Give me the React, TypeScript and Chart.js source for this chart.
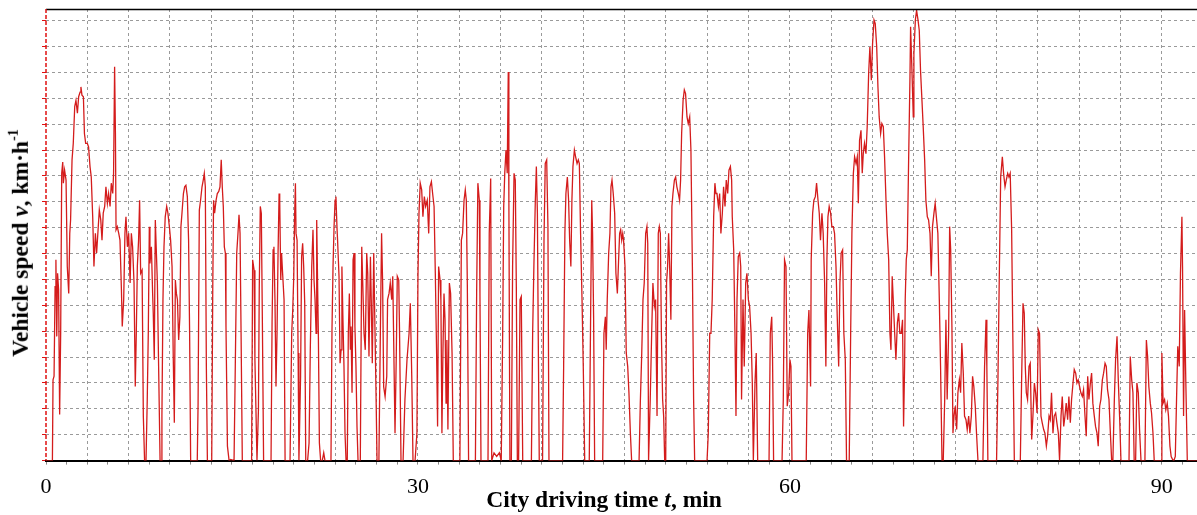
import React, { useEffect, useRef } from "react";
import { Chart, registerables } from "chart.js";

Chart.register(...registerables);

// Vehicle speed trace: [time in s, speed in km/h]
const speedSeg1: [number, number][] = [
  [0,0],[31,0],[34,15.6],[39,16.3],[44,33.6],[48,38.8],[52,24.0],[56,36.2],[61,33.0],[66,8.9],[71,24.6],[76,55.5],[81,57.7],[84,53.6],[90,56.1],[97,54.2],[103,37.5],[110,32.3],[115,43.9],[119,46.5],[126,58.1],[132,61.3],[139,68.4],[145,69.6],[152,67.1],[158,70.3],[165,71.2],[169,72.2],[174,70.6],[181,70.3],[186,63.2],[192,61.3],[200,61.3],[206,60.6],[213,56.8],[219,54.8],[226,47.1],[232,37.5],[239,43.9],[245,40.1],[252,44.6],[258,48.4],[265,46.5],[271,42.6],[277,47.8],[284,49.1],[290,52.9],[297,49.7],[303,51.6],[310,49.1],[316,53.6],[323,51.6],[327,55.5],[332,76.1],[336,63.2],[339,44.6],[345,45.2],[352,43.9],[358,42.6],[365,33.0],[369,25.9],[376,31.1],[382,43.9],[387,47.1],[394,41.3],[400,43.9],[407,34.3],[413,43.9],[419,41.3],[426,34.3],[432,14.3],[437,24.6],[442,37.5],[448,42.6],[453,50.3],[458,36.2],[465,36.8],[471,8.6],[477,0],[484,0],[490,11.8],[495,24.6],[500,45.2],[503,38.1],[510,41.3],[516,32.3],[519,28.5],[524,19.5],[529,46.5],[539,34.3],[545,18.2],[552,0],[558,0],[561,8.6],[566,31.1],[571,41.3],[577,47.1],[584,49.1],[590,47.8],[597,45.2],[603,42.6],[610,37.5],[616,19.5],[621,7.3],[626,34.9],[631,32.3],[636,31.1],[642,23.3],[648,27.8],[653,45.2],[658,47.8],[665,51.6],[671,52.9],[677,53.2],[684,51.0],[690,42.6],[695,24.6],[700,0],[732,0],[736,11.1],[742,48.4],[748,50.3],[755,52.9],[761,54.2],[766,55.5],[771,52.9],[776,18.2],[781,0],[802,0],[807,33.6],[811,50.3],[816,47.8],[823,50.3],[829,51.6],[836,52.0],[842,52.9],[848,58.1],[853,52.9],[858,49.1],[863,41.3],[868,40.1],[871,25.9],[878,2.8],[886,0],[894,0.2],[910,0],[916,18.2],[923,40.1],[929,43.9]
];

const speedSeg2: [number, number][] = [
  [934,47.5],[939,43.9],[944,24.6],[950,0],[995,0],[1000,38.8],[1007,36.8],[1011,19.5],[1016,9.8],[1021,0],[1028,9.8],[1032,33.0],[1037,49.1],[1042,47.8],[1047,27.2],[1053,0],[1089,0],[1094,26.6],[1099,40.7],[1103,41.3],[1108,31.1],[1113,14.3],[1118,24.6],[1123,40.1],[1128,51.6],[1131,50.3],[1136,34.9],[1140,40.1],[1145,36.2],[1152,31.1],[1157,0],[1181,0],[1189,24.6],[1194,29.1],[1199,35.6],[1203,47.1],[1207,53.6],[1210,43.9],[1215,42.6],[1220,20.8],[1224,0],[1232,16.3],[1237,39.4],[1242,42.0],[1247,37.5],[1252,30.4],[1257,0],[1266,0],[1273,3.4],[1279,21.4],[1286,37.5],[1292,44.6],[1297,34.9],[1302,31.1],[1307,24.6],[1310,46.5],[1315,32.3],[1318,24.6],[1323,3.4],[1329,0],[1337,0],[1344,1.5],[1350,0],[1379,0],[1384,25.3],[1389,37.5],[1394,45.2],[1399,50.3],[1403,51.0],[1408,45.2],[1411,42.6],[1418,35.6],[1423,18.8],[1428,21.4],[1432,37.5],[1437,27.2],[1442,18.2],[1447,5.3],[1452,0],[1458,0],[1463,24.6],[1468,32.3],[1473,21.4],[1476,25.9],[1481,13.1],[1486,38.8],[1491,40.1],[1495,25.9],[1500,18.2],[1505,6.6],[1510,0],[1521,0],[1528,41.3],[1532,35.6],[1539,24.6],[1545,21.4],[1552,40.1],[1557,36.2],[1563,20.1],[1570,39.4],[1574,31.1],[1579,18.8],[1586,40.1],[1592,25.3],[1597,13.1],[1602,0],[1611,0],[1618,24.6],[1624,43.9],[1629,34.3],[1634,14.3],[1641,12.4],[1649,16.3],[1653,31.1],[1660,32.3],[1666,34.3],[1673,31.1],[1678,35.6],[1682,24.6],[1689,5.3],[1695,20.1],[1700,35.6],[1707,34.9],[1711,24.6],[1718,0],[1728,0],[1737,11.8],[1747,19.5],[1757,24.6],[1763,30.4],[1770,16.3],[1776,0],[1786,0],[1795,5.3],[1800,35.6],[1805,47.8],[1811,53.6],[1818,52.3],[1824,47.1],[1831,51.0],[1837,49.1]
];

const speedSeg3: [number, number][] = [
  [1845,50.3],[1852,43.9],[1858,52.9],[1865,53.9],[1871,51.6],[1878,49.1],[1884,36.2],[1890,21.4],[1895,6.6],[1900,37.5],[1907,34.9],[1911,31.1],[1916,5.3],[1921,21.4],[1926,32.3],[1931,27.2],[1936,11.1],[1940,23.3],[1945,6.0],[1952,34.3],[1958,32.3],[1965,20.8],[1971,0],[2003,0],[2010,42.6],[2016,43.9],[2023,50.3],[2029,52.3],[2034,50.3],[2039,33.6],[2045,0],[2078,0],[2084,32.3],[2090,53.6],[2097,50.3],[2100,32.3],[2105,0],[2139,0],[2145,43.9],[2152,54.5],[2157,0],[2168,1.5],[2181,0.8],[2194,1.5],[2203,0],[2210,24.6],[2215,49.1],[2220,55.5],[2226,60.0],[2232,55.5],[2237,75.1],[2240,50.3],[2245,0],[2252,0],[2258,37.5],[2265,55.5],[2271,54.2],[2276,33.6],[2281,0],[2287,0],[2294,31.1],[2300,31.7],[2307,0],[2349,0],[2355,24.6],[2361,37.5],[2368,50.3],[2373,56.8],[2378,47.8],[2382,24.6],[2387,0],[2403,0],[2410,42.6],[2416,57.4],[2423,58.1],[2429,45.2],[2434,0],[2500,0],[2505,18.2],[2511,43.9],[2516,51.6],[2523,54.8],[2529,50.3],[2534,42.6],[2540,37.5],[2545,50.3],[2550,56.8],[2557,60.0],[2563,58.7],[2570,57.4],[2576,58.1],[2581,57.4],[2587,43.9],[2594,31.1],[2600,18.2],[2607,0],[2629,0],[2636,29.8],[2641,50.3],[2645,43.9],[2650,27.8],[2655,0],[2694,0],[2700,24.6],[2707,27.8],[2711,21.4],[2716,31.1],[2723,40.1],[2729,43.9],[2734,52.9],[2739,54.2],[2745,51.6],[2752,47.8],[2758,36.2],[2765,32.3],[2771,38.8]
];

const speedSeg4: [number, number][] = [
  [2776,43.9],[2781,44.6],[2786,42.6],[2791,43.9],[2795,42.6],[2802,37.5],[2808,20.8],[2815,18.2],[2821,13.1],[2828,5.3],[2834,0],[2870,0],[2876,11.1],[2883,20.8],[2889,31.1],[2895,34.3],[2902,43.9],[2908,45.2],[2912,42.0],[2916,0],[2924,11.8],[2931,24.6],[2937,34.3],[2944,29.8],[2950,31.1],[2957,8.6],[2963,43.9],[2968,45.2],[2973,43.9],[2978,24.6],[2984,11.8],[2989,8.6],[2994,0],[2999,0],[3003,34.3],[3008,37.5],[3013,43.9],[3018,37.5],[3024,27.2],[3029,49.1],[3034,51.6],[3041,54.2],[3047,54.8],[3053,52.9],[3060,51.6],[3066,50.3],[3071,54.2],[3076,63.2],[3083,69.6],[3089,71.6],[3095,70.9],[3102,66.4],[3108,65.1],[3115,66.4],[3121,60.0],[3128,37.5],[3134,11.8],[3139,0],[3199,0],[3205,5.3],[3212,24.6],[3218,24.6],[3224,31.1],[3231,47.1],[3237,53.6],[3242,51.6],[3247,51.6],[3254,49.1],[3260,51.6],[3266,43.9],[3273,47.8],[3279,52.9],[3286,49.1],[3292,54.2],[3299,51.6],[3305,56.1],[3312,56.8],[3318,54.2],[3321,47.1],[3328,40.7],[3334,24.6],[3339,8.6],[3344,31.1],[3350,39.4],[3357,40.1],[3362,37.5],[3366,11.8],[3373,31.1],[3379,18.2],[3386,34.3],[3392,36.2],[3399,31.1],[3405,29.8],[3412,24.6],[3418,15.0],[3423,0],[3431,15.0],[3437,20.8],[3444,0],[3499,0],[3505,24.6],[3512,27.8],[3516,19.5],[3521,0],[3562,0],[3568,11.8],[3574,38.8],[3581,37.5],[3587,10.5],[3594,13.1],[3600,19.5],[3605,18.2],[3610,0],[3679,0],[3686,24.6],[3692,29.1]
];

const speedSeg5: [number, number][] = [
  [3700,14.3],[3703,38.8],[3710,47.8],[3716,50.3],[3723,51.0],[3729,53.6],[3736,50.3],[3742,47.8],[3748,42.6],[3755,47.8],[3761,43.9],[3768,34.3],[3774,18.2],[3779,38.8],[3784,47.1],[3790,49.1],[3797,47.8],[3803,45.2],[3810,45.2],[3816,43.9],[3823,37.5],[3829,27.8],[3836,18.2],[3842,34.3],[3848,40.1],[3855,40.7],[3861,24.6],[3868,19.5],[3874,0],[3887,0],[3894,24.6],[3900,43.9],[3907,55.5],[3913,58.7],[3920,57.4],[3926,58.7],[3931,49.7],[3937,61.9],[3944,63.8],[3950,55.5],[3955,59.3],[3961,61.3],[3968,59.3],[3974,64.5],[3981,74.8],[3987,79.9],[3994,73.5],[4000,80.6],[4007,85.1],[4013,84.4],[4020,79.9],[4026,72.2],[4032,66.4],[4039,63.2],[4045,65.1],[4052,64.5],[4058,58.7],[4065,50.3],[4071,43.9],[4078,38.8],[4084,24.6],[4089,21.4],[4095,35.6],[4100,31.1],[4107,24.6],[4113,19.5],[4120,26.6],[4126,28.5],[4132,24.6],[4139,24.6],[4145,27.2],[4150,6.6],[4155,18.2],[4158,31.1],[4163,38.8],[4168,40.7],[4174,56.8],[4181,74.1],[4184,83.8],[4190,76.1],[4197,66.4],[4200,78.6],[4207,85.1],[4213,87.0],[4220,85.1],[4226,83.1],[4232,75.4],[4239,69.6],[4245,64.5],[4252,58.1],[4258,50.3],[4265,47.1],[4271,46.5],[4278,43.9],[4284,35.6],[4290,45.2],[4297,47.8],[4303,49.7],[4310,46.5],[4316,43.9],[4323,31.1],[4329,18.2],[4336,0],[4342,0],[4349,11.8],[4355,27.2],[4361,11.8],[4368,24.6],[4373,45.2],[4378,40.7],[4384,25.9],[4389,5.3],[4394,8.6],[4400,10.5],[4407,6.0],[4413,13.1],[4420,15.6],[4426,13.1],[4432,22.7],[4439,16.9],[4445,8.6],[4452,7.9],[4458,6.0],[4465,8.6],[4471,5.3],[4478,8.6],[4484,16.3],[4490,14.3],[4497,10.5],[4503,5.3],[4510,0],[4534,0],[4542,18.2],[4549,27.2],[4553,18.2],[4558,0],[4600,0],[4607,16.3],[4613,34.9],[4620,54.8]
];

const speedSeg6: [number, number][] = [
  [4628,58.7],[4634,55.5],[4641,52.9],[4647,54.2],[4654,55.5],[4660,54.8],[4666,55.5],[4673,44.6],[4679,23.3],[4686,0],[4715,0],[4721,15.0],[4728,30.4],[4734,28.5],[4739,18.2],[4744,13.1],[4750,11.8],[4757,18.2],[4763,18.8],[4770,4.1],[4776,8.6],[4783,15.0],[4789,13.1],[4796,9.2],[4802,25.3],[4808,24.6],[4815,8.6],[4821,7.3],[4828,6.0],[4834,5.3],[4841,2.8],[4847,4.7],[4854,8.6],[4860,7.9],[4866,13.1],[4873,5.3],[4879,8.6],[4886,9.2],[4892,7.3],[4899,5.3],[4905,0],[4912,8.6],[4918,12.4],[4925,6.6],[4931,8.6],[4937,11.1],[4944,7.9],[4950,12.4],[4957,7.3],[4963,11.8],[4970,15.0],[4976,17.6],[4983,16.9],[4989,15.0],[4995,15.6],[5002,14.3],[5008,13.1],[5015,12.4],[5021,13.7],[5028,8.6],[5034,4.7],[5041,16.3],[5047,11.8],[5054,15.0],[5060,16.9],[5066,11.1],[5073,8.6],[5079,6.6],[5086,5.3],[5092,2.8],[5099,10.5],[5105,11.8],[5112,15.6],[5118,16.9],[5125,18.8],[5131,18.2],[5137,13.7],[5144,11.8],[5150,6.0],[5157,0],[5163,0],[5170,11.8],[5176,19.5],[5183,24.0],[5189,15.6],[5196,7.9],[5202,0],[5241,0],[5247,20.1],[5254,15.6],[5260,13.1],[5266,0],[5273,0],[5279,15.0],[5286,13.1],[5292,6.0],[5299,0],[5318,0],[5325,23.3],[5331,20.1],[5337,14.3],[5344,11.1],[5350,9.2],[5357,5.3],[5363,0],[5396,0],[5400,20.8],[5406,11.1],[5413,11.8],[5419,9.8],[5426,11.1],[5432,8.6],[5439,2.8],[5445,0.8],[5452,0.2],[5458,0],[5465,0.8],[5471,11.8],[5477,22.1],[5484,18.2],[5490,36.2],[5497,47.1],[5500,37.5],[5505,8.6],[5510,29.1],[5516,15.0],[5523,0],[5570,0]
];

// Axis setup values
const timeMaxSec = 5570;
const speedMax = 87.25;
const gridStepSec = 200;
const minorStepSec = 100;
const labelStepSec = 1800; // every 30 min
const speedStep = 5;

const SERIF = '"Liberation Serif", "Times New Roman", serif';
const GRID_GREY = "#9a9a9a";

const framePlugin = {
  id: "frame",
  afterDraw(chart: any) {
    const { ctx, chartArea: a } = chart;
    ctx.save();
    ctx.strokeStyle = "#000";
    ctx.lineWidth = 1.5;
    ctx.beginPath();
    ctx.moveTo(a.left, a.top + 0.5);
    ctx.lineTo(a.right, a.top + 0.5);
    ctx.stroke();
    ctx.strokeStyle = "#e01010";
    ctx.lineWidth = 1.5;
    ctx.setLineDash([4, 2]);
    ctx.beginPath();
    ctx.moveTo(a.left, a.top);
    ctx.lineTo(a.left, a.bottom);
    ctx.stroke();
    ctx.restore();
  },
};

export default function App() {
  const canvasRef = useRef<HTMLCanvasElement | null>(null);

  useEffect(() => {
    const canvas = canvasRef.current;
    if (!canvas) return;
    const points = [
      ...speedSeg1, ...speedSeg2, ...speedSeg3,
      ...speedSeg4, ...speedSeg5, ...speedSeg6,
    ].map(([t, v]) => ({ x: t, y: v }));

    const chart = new Chart(canvas, {
      type: "line",
      data: {
        datasets: [
          {
            data: points,
            borderColor: "rgb(212,28,28)",
            borderWidth: 1.3,
            pointRadius: 0,
            tension: 0,
            fill: false,
          },
        ],
      },
      options: {
        animation: false,
        responsive: false,
        devicePixelRatio: 1,
        layout: { padding: { left: 42, top: 9, right: 0, bottom: 6 } },
        plugins: { legend: { display: false }, tooltip: { enabled: false } },
        scales: {
          x: {
            type: "linear",
            min: 0,
            max: timeMaxSec,
            grid: {
              color: (c: any) =>
                c.tick && c.tick.value % gridStepSec === 0 && c.tick.value !== 0
                  ? GRID_GREY
                  : "rgba(0,0,0,0)",
              lineWidth: 1,
              tickLength: 4,
              tickColor: "#888",
              drawTicks: true,
            },
            border: { display: true, color: "#000", width: 2, dash: [3, 3] },
            ticks: {
              stepSize: minorStepSec,
              autoSkip: false,
              maxRotation: 0,
              includeBounds: false,
              padding: 9,
              color: "#000",
              font: { family: SERIF, size: 22 },
              callback: (val: any) =>
                Number(val) % labelStepSec === 0 ? String(Number(val) / 60) : "",
            },
          },
          y: {
            type: "linear",
            min: 0,
            max: speedMax,
            grid: {
              color: (c: any) =>
                c.tick && c.tick.value !== 0 ? GRID_GREY : "rgba(0,0,0,0)",
              lineWidth: 1,
              tickLength: 4,
              tickColor: "#e01010",
              drawTicks: true,
            },
            border: { display: false, dash: [3, 3] },
            ticks: {
              display: false,
              stepSize: speedStep,
              includeBounds: false,
            },
          },
        },
      },
      plugins: [framePlugin],
    } as any);
    return () => chart.destroy();
  }, []);

  const titleStyle: React.CSSProperties = {
    position: "absolute",
    fontFamily: SERIF,
    fontWeight: "bold",
    fontSize: 23.5,
    whiteSpace: "nowrap",
    lineHeight: 1,
    color: "#000",
  };

  return (
    <div
      style={{
        position: "fixed",
        left: 0,
        top: 0,
        width: 1197,
        height: 515,
        background: "#fff",
      }}
    >
      <canvas ref={canvasRef} width={1197} height={515} style={{ width: 1197, height: 515, display: "block" }} />
      <div
        style={{
          ...titleStyle,
          left: 19,
          top: 243,
          transform: "translate(-50%, -50%) rotate(-90deg)",
        }}
      >
        Vehicle speed <i>v</i>, km·h<sup style={{ fontSize: "0.6em", verticalAlign: "0.7em" }}>-1</sup>
      </div>
      <div
        style={{
          ...titleStyle,
          left: 604,
          top: 500,
          transform: "translate(-50%, -50%)",
        }}
      >
        City driving time <i>t</i>, min
      </div>
    </div>
  );
}
